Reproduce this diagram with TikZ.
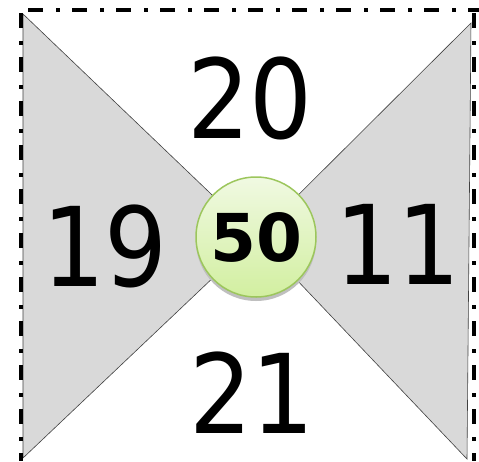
\documentclass[tikz,border=0pt]{standalone}
\usepackage{fontspec}
\setmainfont{DejaVu Sans}
\newfontfamily\digitfont{DejaVu Sans Condensed}
\definecolor{tri}{HTML}{D9D9D9}
\definecolor{ringgreen}{HTML}{9CC65C}
\definecolor{topgreen}{HTML}{F0F9E2}
\definecolor{botgreen}{HTML}{D2EFA0}
\tikzset{
  border/.style={line width=3.5pt,dash pattern=on 15pt off 13pt on 4pt off 12pt},
  wing/.style={fill=tri,draw=black!75,line width=0.6pt},
  num/.style={font=\digitfont\fontsize{110}{110}\selectfont},
  hub/.style={circle,minimum size=120pt,inner sep=0pt,draw=ringgreen,line width=1.5pt,
    top color=topgreen,bottom color=botgreen,font=\bfseries\fontsize{66}{66}\selectfont}
}
\begin{document}
\begin{tikzpicture}[x=1pt,y=-1pt]
\useasboundingbox (0,0) rectangle (479,461);
\fill[white] (0,0) rectangle (479,461);
% Side triangles
\draw[wing] (23,14) -- (256,237) -- (23,458) -- cycle;
\draw[wing] (471,23) -- (256,237) -- (467,459) -- cycle;
% Border
\draw[border] (28,10) -- (479,10);
\draw[border] (21,13) -- (21,461);
\draw[border] (474,13) -- (474,461);
% Shadow and hub
\fill[black!25] (256,241) circle (60);
\node[hub] (hub) at (256,237) {50};
% Labels
\node[num] (top) at (250,98) {20};
\node[num] (left) at (105,246) {19};
\node[num] (right) at (398,244) {11};
\node[num] (bottom) at (252,393) {21};
\end{tikzpicture}
\end{document}
